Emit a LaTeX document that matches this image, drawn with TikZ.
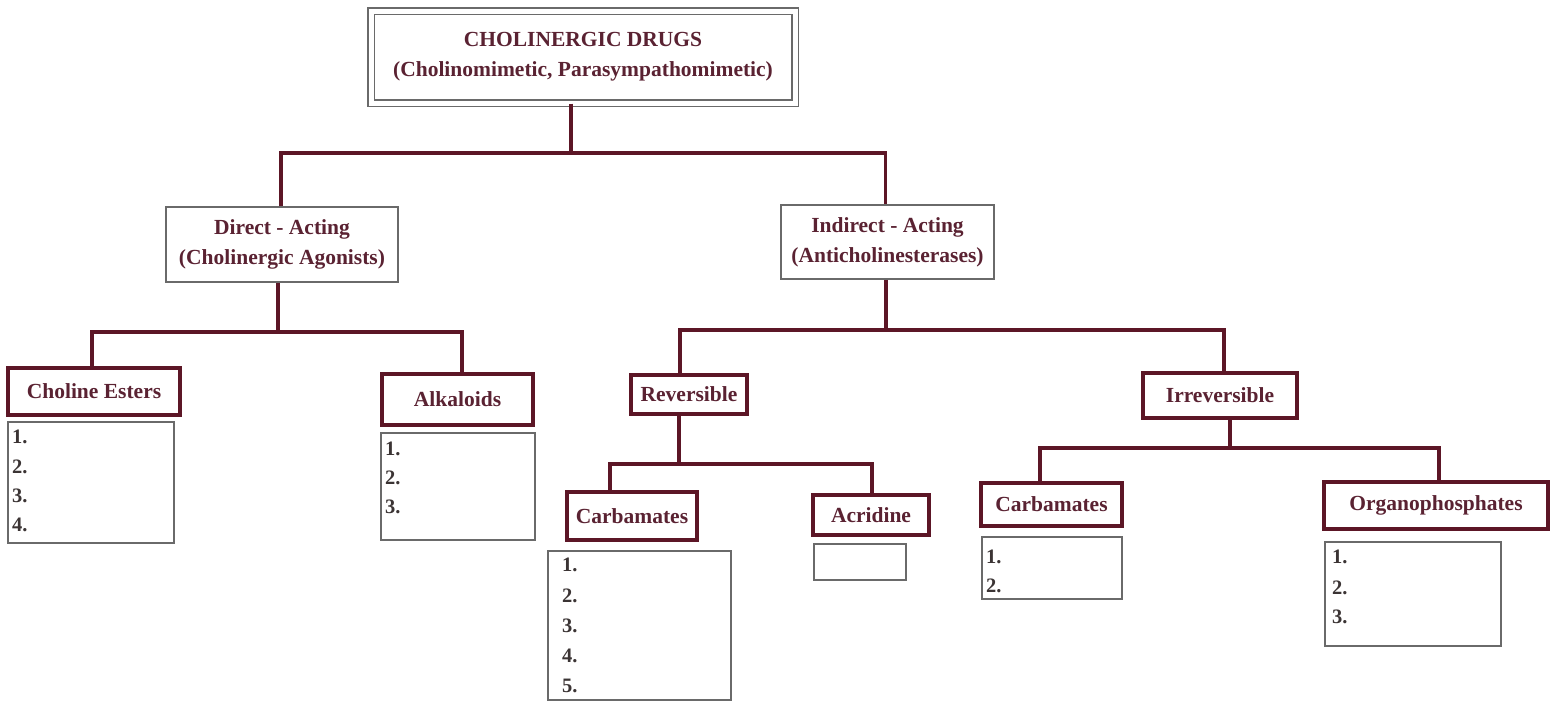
\documentclass[tikz,border=0pt]{standalone}
\usepackage{fontspec}
\setmainfont{Liberation Serif}
\definecolor{maroon}{HTML}{5C1626}
\definecolor{txtmaroon}{HTML}{5A2232}
\definecolor{boxgray}{HTML}{6A6A6A}
\definecolor{numgray}{HTML}{3B3434}
\tikzset{
  conn/.style={draw=maroon, line width=3.5pt},
  lbl/.style={font=\fontsize{21.5}{30}\selectfont\bfseries, text=txtmaroon, align=center, inner sep=0pt},
  thinbox/.style={lbl, draw=boxgray, line width=1.5pt, fill=white, rectangle},
  thickbox/.style={lbl, draw=maroon, line width=4pt, fill=white, rectangle},
  listbox/.style={draw=boxgray, line width=1.5pt, fill=white, rectangle, inner sep=0pt},
  num/.style={font=\fontsize{20.5}{24}\selectfont\bfseries, text=numgray, anchor=west, inner sep=0pt},
}
\begin{document}
\begin{tikzpicture}[x=1pt, y=-1pt]
\useasboundingbox (0,0) rectangle (1557,702);
\fill[white] (0,0) rectangle (1557,702);

% coordinates for junctions
\coordinate (j1) at (571,153);
\coordinate (j2) at (278,332);
\coordinate (j3) at (886,330);
\coordinate (j4) at (679,464);
\coordinate (j5) at (1230,448);

% nodes
\node[lbl, draw=boxgray, line width=1.3pt, double, double distance=5pt, minimum width=424pt, minimum height=92pt] (top) at (583,57)
  {CHOLINERGIC DRUGS\\(Cholinomimetic, Parasympathomimetic)};

\node[thinbox, minimum width=232pt, minimum height=75pt] (direct) at (282,244.5)
  {Direct - Acting\\(Cholinergic Agonists)};
\node[thinbox, minimum width=213pt, minimum height=74pt] (indirect) at (887.5,242)
  {Indirect - Acting\\(Anticholinesterases)};

\node[thickbox, minimum width=172pt, minimum height=47pt] (ce) at (94,391.5) {Choline Esters};
\node[thickbox, minimum width=151pt, minimum height=51pt] (alk) at (457.5,399.5) {Alkaloids};
\node[thickbox, minimum width=116pt, minimum height=39pt] (rev) at (689,394.5) {Reversible};
\node[thickbox, minimum width=154pt, minimum height=45pt] (irr) at (1220,395.5) {Irreversible};
\node[thickbox, minimum width=130pt, minimum height=48pt] (carbL) at (632,516) {Carbamates};
\node[thickbox, minimum width=116pt, minimum height=40pt] (acr) at (871,515) {Acridine};
\node[thickbox, minimum width=141pt, minimum height=43pt] (carbR) at (1051.5,504.5) {Carbamates};
\node[thickbox, minimum width=224pt, minimum height=47pt] (org) at (1436,505.5) {Organophosphates};

% list boxes
\node[listbox, minimum width=166pt, minimum height=121pt] (ceL) at (91,482.5) {};
\node[listbox, minimum width=154pt, minimum height=107pt] (alkL) at (458,486.5) {};
\node[listbox, minimum width=183pt, minimum height=149pt] (carbLL) at (639.5,625.5) {};
\node[listbox, minimum width=92pt, minimum height=36pt] (acrL) at (860,562) {};
\node[listbox, minimum width=140pt, minimum height=62pt] (carbRL) at (1052,568) {};
\node[listbox, minimum width=176pt, minimum height=104pt] (orgL) at (1413,594) {};

% list numbers
\node[num] (ce1) at (12,437) {1.};
\node[num] (ce2) at (12,467) {2.};
\node[num] (ce3) at (12,496) {3.};
\node[num] (ce4) at (12,525) {4.};
\node[num] (alk1) at (385,449) {1.};
\node[num] (alk2) at (385,478) {2.};
\node[num] (alk3) at (385,507) {3.};
\node[num] (cl1) at (562,565) {1.};
\node[num] (cl2) at (562,596) {2.};
\node[num] (cl3) at (562,626) {3.};
\node[num] (cl4) at (562,656) {4.};
\node[num] (cl5) at (562,686) {5.};
\node[num] (cr1) at (986,557) {1.};
\node[num] (cr2) at (986,586) {2.};
\node[num] (or1) at (1332,557) {1.};
\node[num] (or2) at (1332,588) {2.};
\node[num] (or3) at (1332,617) {3.};

% connectors
\draw[conn] (top.south -| j1) -- (j1);
\draw[conn] ([xshift=-1pt]direct.north) |- (j1) -| ([xshift=-2pt]indirect.north);
\draw[conn] (direct.south -| j2) -- (j2);
\draw[conn] ([xshift=-2pt]ce.north) |- (j2) -| ([xshift=4.5pt]alk.north);
\draw[conn] (indirect.south -| j3) -- (j3);
\draw[conn] ([xshift=-9pt]rev.north) |- (j3) -| ([xshift=4pt]irr.north);
\draw[conn] (rev.south -| j4) -- (j4);
\draw[conn] ([xshift=-22pt]carbL.north) |- (j4) -| ([xshift=1pt]acr.north);
\draw[conn] (irr.south -| j5) -- (j5);
\draw[conn] ([xshift=-11.5pt]carbR.north) |- (j5) -| ([xshift=3pt]org.north);
\end{tikzpicture}
\end{document}
